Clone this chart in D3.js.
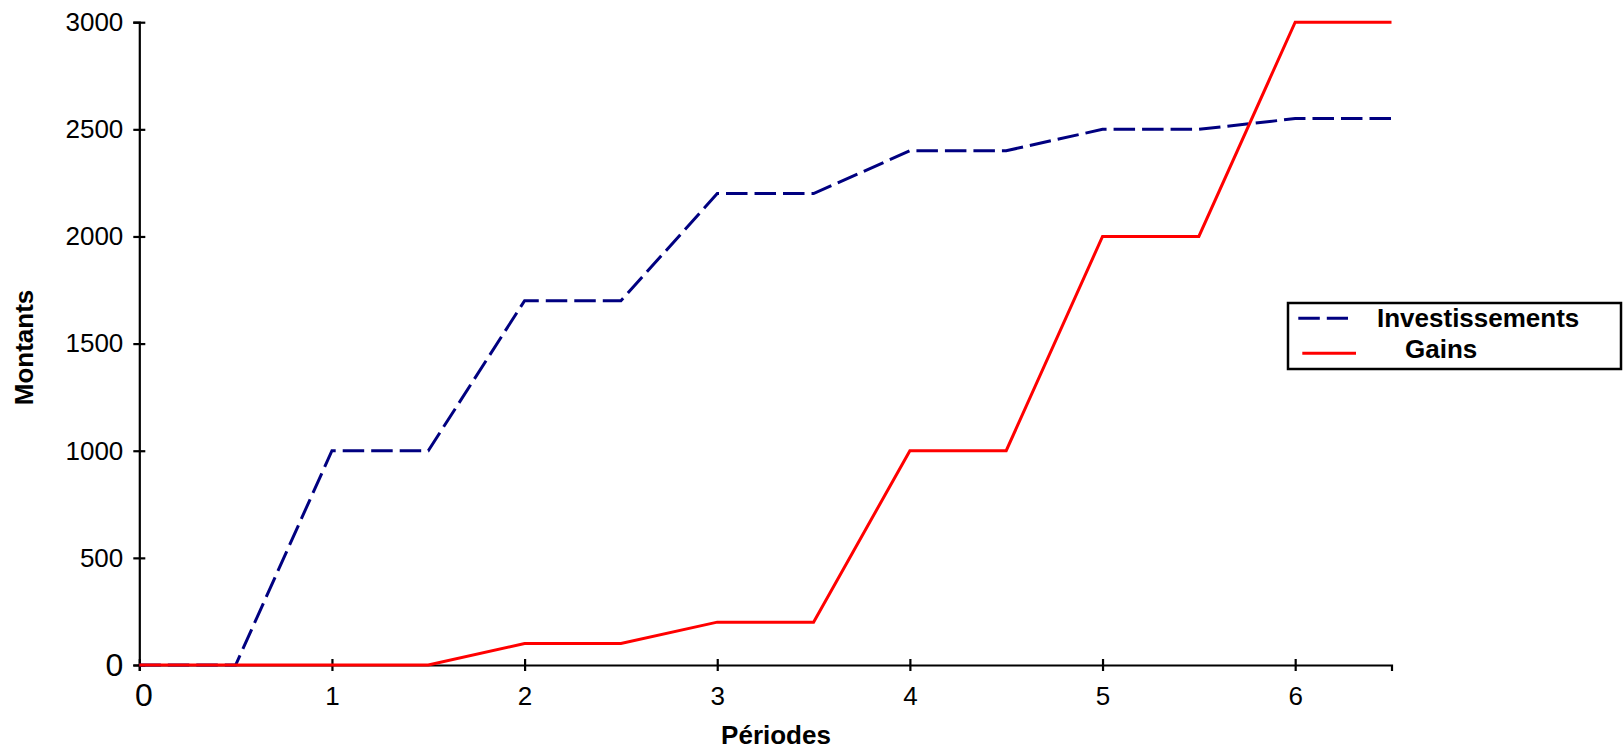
<!DOCTYPE html>
<html>
<head>
<meta charset="utf-8">
<script src="https://cdn.jsdelivr.net/npm/d3@7"></script>
<style>
  body { margin: 0; background: #fff; }
  svg { font-family: "Liberation Sans", Arial, sans-serif; }
</style>
</head>
<body>
<div id="chart"></div>
<script>
// values
const periods = [0, 0.5, 1, 1.5, 2, 2.5, 3, 3.5, 4, 4.5, 5, 5.5, 6, 6.5];
const investissements = [0, 0, 1000, 1000, 1700, 1700, 2200, 2200, 2400, 2400, 2500, 2500, 2550, 2550];
const gains = [0, 0, 0, 0, 100, 100, 200, 200, 1000, 1000, 2000, 2000, 3000, 3000];
const xTicks = [0, 1, 2, 3, 4, 5, 6];
const yTicks = [0, 500, 1000, 1500, 2000, 2500, 3000];
const seriesNames = ["Investissements", "Gains"];

const width = 1624, height = 750;
const svg = d3.select("#chart").append("svg")
    .attr("width", width)
    .attr("height", height);

const x = d3.scaleLinear().domain([0, 6.5]).range([139.3, 1391.5]);
const y = d3.scaleLinear().domain([0, 3000]).range([665, 22.2]);

// x axis
const xAxis = svg.append("g")
    .attr("transform", "translate(0," + y(0) + ")")
    .call(d3.axisBottom(x).tickValues(xTicks).tickFormat(d3.format("d"))
        .tickSizeOuter(0).tickSize(6).tickPadding(16));
xAxis.select(".domain").attr("stroke-width", 2.2);
xAxis.selectAll(".tick line").attr("y1", -6).attr("y2", 6).attr("stroke-width", 2.2);
xAxis.selectAll(".tick text")
    .attr("font-size", function (d) { return d === 0 ? 32 : 26; })
    .attr("font-family", "Liberation Sans, Arial, sans-serif")
    .attr("x", function (d) { return d === 0 ? 4 : 0; })
    .attr("y", function (d) { return d === 0 ? 18 : 22; })
    .attr("fill", "#000");

// y axis
const yAxis = svg.append("g")
    .attr("transform", "translate(" + x(0) + ",0)")
    .call(d3.axisLeft(y).tickValues(yTicks).tickFormat(d3.format("d"))
        .tickSizeOuter(0).tickSize(6).tickPadding(10));
yAxis.select(".domain").attr("stroke-width", 2.2);
yAxis.selectAll(".tick line").attr("x1", -6).attr("x2", 6).attr("stroke-width", 2.2);
yAxis.selectAll(".tick text")
    .attr("font-size", function (d) { return d === 0 ? 32 : 26; })
    .attr("font-family", "Liberation Sans, Arial, sans-serif")
    .attr("x", -16)
    .attr("fill", "#000");

// axis titles
svg.append("text")
    .attr("x", 776).attr("y", 744)
    .attr("text-anchor", "middle")
    .attr("font-size", 26).attr("font-weight", "bold")
    .text("Périodes");

svg.append("text")
    .attr("transform", "translate(33,347.5) rotate(-90)")
    .attr("text-anchor", "middle")
    .attr("font-size", 26).attr("font-weight", "bold")
    .text("Montants");

// lines
const line = d3.line()
    .x(function (d) { return x(d[0]); })
    .y(function (d) { return y(d[1]); });

svg.append("path")
    .datum(periods.map(function (p, i) { return [p, investissements[i]]; }))
    .attr("fill", "none")
    .attr("stroke", "#000080")
    .attr("stroke-width", 3)
    .attr("stroke-dasharray", "21.5,7")
    .attr("d", line);

svg.append("path")
    .datum(periods.map(function (p, i) { return [p, gains[i]]; }))
    .attr("fill", "none")
    .attr("stroke", "#ff0000")
    .attr("stroke-width", 3)
    .attr("d", line);

// legend
const legend = svg.append("g").attr("class", "legend");
legend.append("rect")
    .attr("x", 1288).attr("y", 303)
    .attr("width", 333).attr("height", 66)
    .attr("fill", "#fff")
    .attr("stroke", "#000").attr("stroke-width", 2.5);

legend.append("line")
    .attr("x1", 1298.3).attr("x2", 1348).attr("y1", 318.3).attr("y2", 318.3)
    .attr("stroke", "#000080").attr("stroke-width", 3)
    .attr("stroke-dasharray", "21.5,7");
legend.append("line")
    .attr("x1", 1302.3).attr("x2", 1356).attr("y1", 353.3).attr("y2", 353.3)
    .attr("stroke", "#ff0000").attr("stroke-width", 3);

legend.append("text")
    .attr("x", 1377).attr("y", 327)
    .attr("font-size", 26).attr("font-weight", "bold")
    .text(seriesNames[0]);
legend.append("text")
    .attr("x", 1405).attr("y", 358)
    .attr("font-size", 26).attr("font-weight", "bold")
    .text(seriesNames[1]);
</script>
</body>
</html>
